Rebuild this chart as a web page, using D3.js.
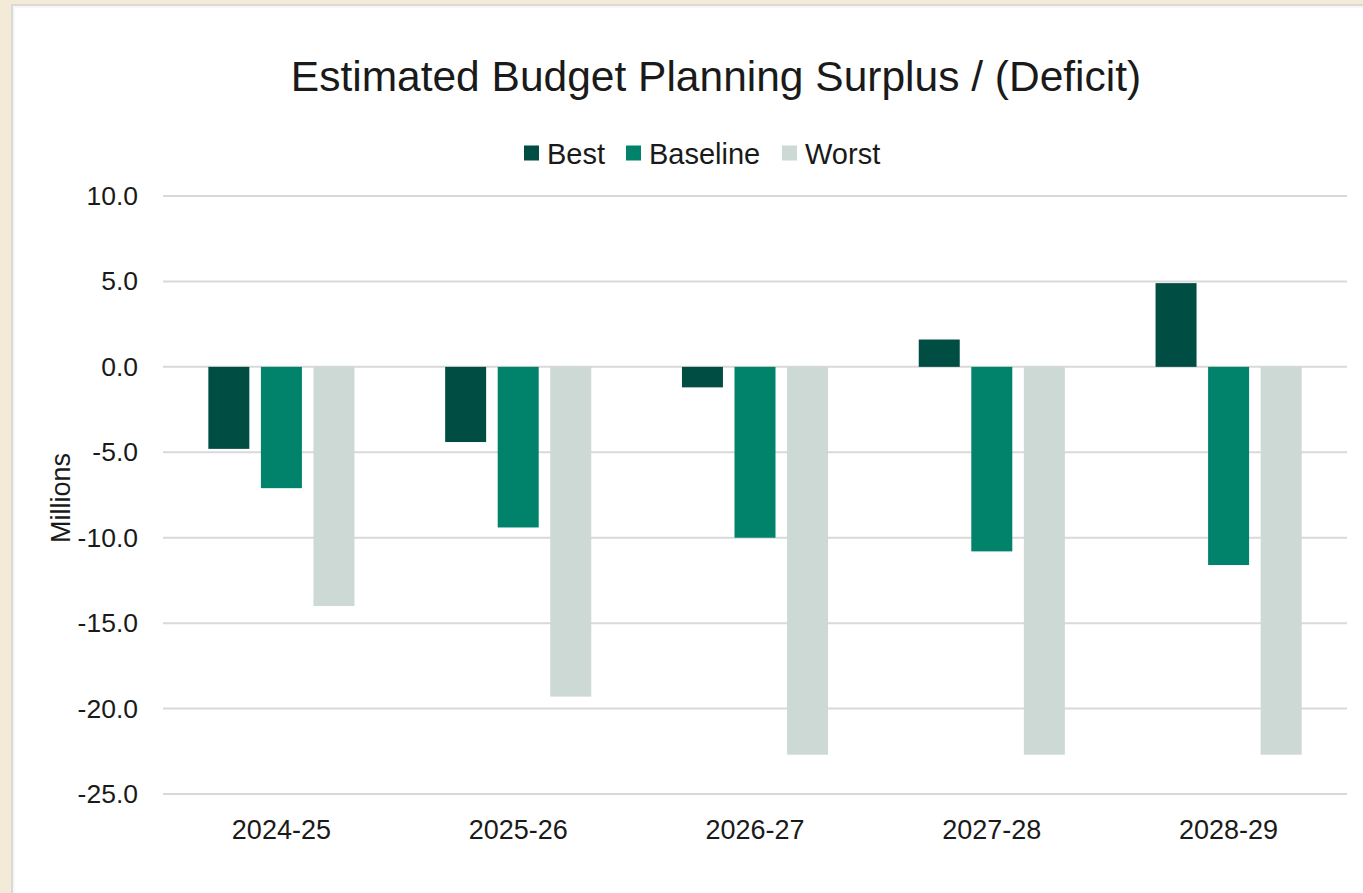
<!DOCTYPE html>
<html>
<head>
<meta charset="utf-8">
<script src="https://cdn.jsdelivr.net/npm/d3@7"></script>
<style>
  html, body { margin: 0; padding: 0; background: #f3ebd8; }
  svg { display: block; font-family: "Liberation Sans", Arial, sans-serif; }
</style>
</head>
<body>
<svg id="chart" width="1363" height="893"></svg>
<script>
// chart data
var categories = ["2024-25", "2025-26", "2026-27", "2027-28", "2028-29"];
var seriesNames = ["Best", "Baseline", "Worst"];
var best = [-4.8, -4.4, -1.2, 1.6, 4.9];
var baseline = [-7.1, -9.4, -10.0, -10.8, -11.6];
var worst = [-14.0, -19.3, -22.7, -22.7, -22.7];
var yTicks = [10, 5, 0, -5, -10, -15, -20, -25];
var colors = ["#004d44", "#00836a", "#cdd9d5"];

var values = [best, baseline, worst];

var svg = d3.select("#chart");

// card with a soft edge on top/left
svg.append("rect").attr("x", 11).attr("y", 4).attr("width", 1400).attr("height", 1000).attr("fill", "#d9d9d9");
svg.append("rect").attr("x", 13).attr("y", 6).attr("width", 1400).attr("height", 1000).attr("fill", "#f7f7f7");
svg.append("rect").attr("x", 15).attr("y", 8).attr("width", 1400).attr("height", 1000).attr("fill", "#ffffff");

var plotLeft = 163, plotRight = 1347, plotTop = 196, plotBottom = 794;

var y = d3.scaleLinear().domain([-25, 10]).range([plotBottom, plotTop]);

var x0 = d3.scaleBand()
    .domain(categories)
    .range([plotLeft, plotRight])
    .paddingInner(0.383)
    .paddingOuter(0.383 / 2);

var x1 = d3.scaleBand()
    .domain(seriesNames)
    .range([0, x0.bandwidth()])
    .paddingInner(0.22);

// gridlines
svg.append("g")
    .selectAll("line")
    .data(yTicks)
    .join("line")
    .attr("x1", plotLeft)
    .attr("x2", plotRight)
    .attr("y1", function(d) { return y(d); })
    .attr("y2", function(d) { return y(d); })
    .attr("stroke", "#d9d9d9")
    .attr("stroke-width", 2);

// y axis labels (plain hyphen for negatives, like the original)
var yAxis = d3.axisLeft(y)
    .tickValues(yTicks)
    .tickSize(0)
    .tickPadding(25)
    .tickFormat(function(d) { return d.toFixed(1); });

var gy = svg.append("g")
    .attr("transform", "translate(" + plotLeft + ",0)")
    .call(yAxis);
gy.select(".domain").remove();
gy.selectAll("text")
    .attr("font-size", 26.5)
    .attr("font-family", "Liberation Sans, Arial, sans-serif")
    .attr("fill", "#1a1a1a");

// bars
var groups = svg.append("g")
    .selectAll("g")
    .data(categories)
    .join("g")
    .attr("transform", function(d) { return "translate(" + x0(d) + ",0)"; });

groups.selectAll("rect")
    .data(function(d, i) {
        return seriesNames.map(function(s, j) { return { key: s, value: values[j][i], idx: j }; });
    })
    .join("rect")
    .attr("x", function(d) { return x1(d.key); })
    .attr("width", x1.bandwidth())
    .attr("y", function(d) { return y(Math.max(0, d.value)); })
    .attr("height", function(d) { return Math.abs(y(d.value) - y(0)); })
    .attr("fill", function(d) { return colors[d.idx]; });

// x axis labels
var xAxis = d3.axisBottom(x0).tickSize(0).tickPadding(26);
var gx = svg.append("g")
    .attr("transform", "translate(0," + plotBottom + ")")
    .call(xAxis);
gx.select(".domain").remove();
gx.selectAll("text")
    .attr("font-size", 27)
    .attr("font-family", "Liberation Sans, Arial, sans-serif")
    .attr("fill", "#1a1a1a");

// title
svg.append("text")
    .attr("x", 716)
    .attr("y", 91)
    .attr("text-anchor", "middle")
    .attr("font-size", 42.5)
    .attr("fill", "#1a1a1a")
    .text("Estimated Budget Planning Surplus / (Deficit)");

// y axis title
svg.append("text")
    .attr("transform", "translate(70,498) rotate(-90)")
    .attr("text-anchor", "middle")
    .attr("font-size", 27)
    .attr("fill", "#1a1a1a")
    .text("Millions");

// legend
var legendX = [524, 626, 782];
var legend = svg.append("g")
    .selectAll("g")
    .data(seriesNames)
    .join("g")
    .attr("transform", function(d, i) { return "translate(" + legendX[i] + ",153)"; });

legend.append("rect")
    .attr("x", 0)
    .attr("y", -7.5)
    .attr("width", 15)
    .attr("height", 15)
    .attr("fill", function(d, i) { return colors[i]; });

legend.append("text")
    .attr("x", 23)
    .attr("y", 10.5)
    .attr("font-size", 29)
    .attr("fill", "#1a1a1a")
    .text(function(d) { return d; });
</script>
</body>
</html>
